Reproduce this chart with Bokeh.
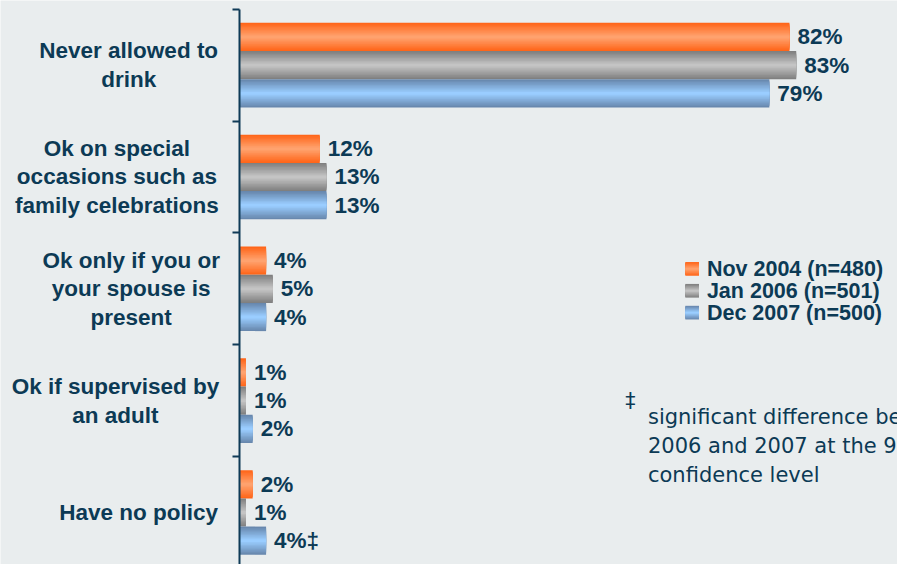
from bokeh.plotting import figure
from bokeh.models import Range1d, FixedTicker, LinearAxis, Label, ColumnDataSource
from bokeh.core.properties import value
from bokeh.embed import file_html
from bokeh.resources import INLINE

# ---------------- data ----------------
categories = [
    "Never allowed to\ndrink",
    "Ok on special\noccasions such as\nfamily celebrations",
    "Ok only if you or\nyour spouse is\npresent",
    "Ok if supervised by\nan adult",
    "Have no policy",
]
series_names = ["Nov 2004 (n=480)", "Jan 2006 (n=501)", "Dec 2007 (n=500)"]
nov_2004 = [82, 12, 4, 1, 2]
jan_2006 = [83, 13, 5, 1, 1]
dec_2007 = [79, 13, 4, 2, 4]
dec_2007_marks = ["", "", "", "", "\u2021"]
footnote_symbol = "\u2021"
footnote = "significant difference between\n2006 and 2007 at the 95%\nconfidence level"

# ---------------- style ----------------
W, H = 897, 564             # figure size (fits the window with its 8px margin)
REF_W, REF_H = 913, 580     # layout designed on this grid, scaled into W x H
S = 0.977                   # font / screen-size scale
AXIS_X = 243                # layout px of the zero line
PX_PER_PCT = 6.83
BAND = 115.0                # layout px per category
TOP_BOUNDARY = 9            # layout px of first category boundary
BAR_PX = 29.0
BG = "#E9EDEE"
TEXT = "#0C3A55"
AXIS = "#0F3B57"
EDGE = ["#FF661A", "#808080", "#6888AE"]
MID = ["#FFA26E", "#C4C4C4", "#9ACDFF"]
LABEL_CENTERS = [130.5, 118.5, 133, 117, 140.5]   # layout px, centre of each label block


def px2x(px):
    return (px - AXIS_X) / PX_PER_PCT


def py2y(py):
    return (py - TOP_BOUNDARY) / BAND - 0.5


def fs(px):
    return f"{px * S:.1f}px"


def blend(c1, c2, t):
    a = [int(c1[i:i + 2], 16) for i in (1, 3, 5)]
    b = [int(c2[i:i + 2], 16) for i in (1, 3, 5)]
    return "#%02x%02x%02x" % tuple(round(a[i] + (b[i] - a[i]) * t) for i in range(3))


p = figure(width=W, height=H, output_backend="svg", toolbar_location=None,
           x_range=Range1d(px2x(0), px2x(REF_W)), y_range=Range1d(py2y(REF_H), py2y(0)),
           x_axis_location=None, y_axis_location=None,
           min_border_left=0, min_border_right=0,
           min_border_top=0, min_border_bottom=0)
p.background_fill_color = BG
p.border_fill_color = BG
p.outline_line_color = None
p.grid.visible = False

n = len(categories)
yax = LinearAxis(ticker=FixedTicker(ticks=[i - 0.5 for i in range(n + 1)]),
                 fixed_location=0, bounds=(-0.5, n),
                 major_label_text_color=None, major_label_standoff=0,
                 axis_line_color=AXIS, axis_line_width=2,
                 major_tick_line_color=AXIS, major_tick_line_width=2,
                 major_tick_in=7, major_tick_out=0,
                 minor_tick_line_color=None)
p.add_layout(yax, "right")

series = [nov_2004, jan_2006, dec_2007]
marks = [[""] * n, [""] * n, dec_2007_marks]
bar_h = BAR_PX / BAND
offsets = [-bar_h, 0.0, bar_h]
NL = 10

for s, vals in enumerate(series):
    ys = [i + offsets[s] for i in range(n)]
    for k in range(NL):
        frac = 1 - k / NL
        t = k / (NL - 1)
        p.hbar(y=ys, left=0, right=vals, height=bar_h * frac,
               fill_color=blend(EDGE[s], MID[s], t), line_color=None)
    src = ColumnDataSource(dict(x=vals, y=ys,
                                t=[f"{v}%{m}" for v, m in zip(vals, marks[s])]))
    p.text(x="x", y="y", text="t", source=src, x_offset=8,
           text_baseline="middle", text_align="left",
           text_font=value("Liberation Sans"), text_font_style="bold",
           text_font_size=fs(23), text_color=TEXT)

# category labels
lab_src = ColumnDataSource(dict(x=[px2x(c) for c in LABEL_CENTERS],
                                y=list(range(n)), t=categories))
p.text(x="x", y="y", text="t", source=lab_src, text_align="center",
       text_baseline="middle", text_line_height=1.15,
       text_font=value("Liberation Sans"), text_font_style="bold",
       text_font_size=fs(23), text_color=TEXT)

# legend
leg_rows = [276, 298.5, 321]
for s, name in enumerate(series_names):
    ly = py2y(leg_rows[s])
    for k in range(NL):
        frac = 1 - k / NL
        t = k / (NL - 1)
        p.rect(x=[px2x(704)], y=[ly], width=14 * S, height=14 * S * frac,
               width_units="screen", height_units="screen",
               fill_color=blend(EDGE[s], MID[s], t), line_color=None)
    p.add_layout(Label(x=px2x(719), y=ly, text=name, text_align="left",
                       text_baseline="middle", text_font="Liberation Sans",
                       text_font_style="bold", text_font_size=fs(22),
                       text_color=TEXT))

# footnote
p.add_layout(Label(x=px2x(641), y=py2y(412), text=footnote_symbol,
                   text_align="center", text_baseline="middle",
                   text_font="DejaVu Sans", text_font_size=fs(21), text_color=TEXT))
p.add_layout(Label(x=px2x(659), y=py2y(458), text=footnote,
                   text_align="left", text_baseline="middle", text_line_height=1.2,
                   text_font="DejaVu Sans", text_font_size=fs(21.5), text_color=TEXT))

open("out.html", "w").write(file_html(p, INLINE))
